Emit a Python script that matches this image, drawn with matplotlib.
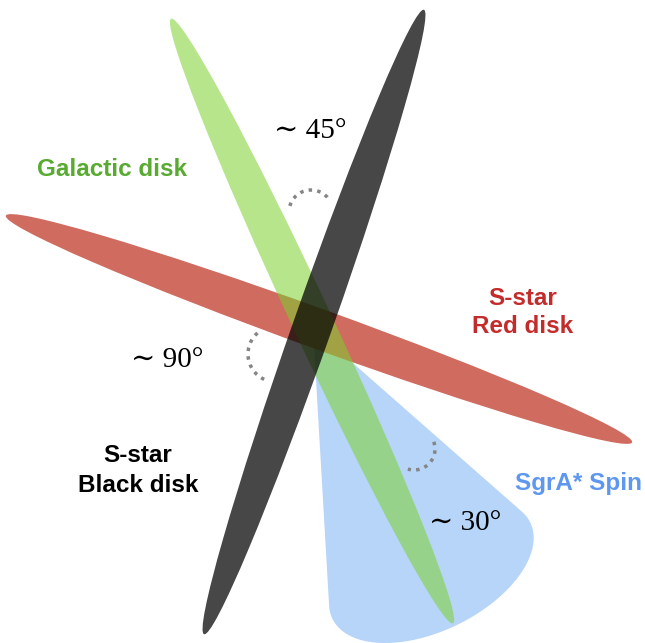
import numpy as np
import matplotlib
matplotlib.use('Agg')
import matplotlib.pyplot as plt
from matplotlib.patches import Ellipse, Arc, Polygon

# disks (pixel frame, y down): centre, tilt of long axis (deg), length, thickness
disk_names = ['S-star Red disk', 'Galactic disk', 'S-star Black disk']
disk_cx = [319, 312, 314]
disk_cy = [329, 321, 322]
disk_tilt = [19.9, 65.0, 109.4]
disk_len = [666, 667, 662]
disk_thick = [40, 40, 39]
disk_color = ['#cf6b5f', '#7cd12e', '#000000']
disk_alpha = [1.0, 0.55, 0.72]

# SgrA* spin cone: apex, axis tilt, distance to base, base semi-axes
spin_apex = (313, 328)
spin_tilt = 64.0
spin_dist = 270
spin_b = 60
spin_r = 110

# angle markers: centre, radius, start/end (deg)
arc_cx = [311, 276, 414]
arc_cy = [212, 354, 449]
arc_r = [22, 28, 21]
arc_t1 = [-164, 115, -20]
arc_t2 = [-31, 234, 107]

angle_labels = ['\u223c 45°', '\u223c 90°', '\u223c 30°']
angle_x = [310, 167, 465]
angle_y = [138, 367, 530]

fig = plt.figure(figsize=(6.45, 6.43), dpi=100)
ax = fig.add_axes([0, 0, 1, 1])
ax.set_xlim(0, 645)
ax.set_ylim(643, 0)
ax.axis('off')

# cone silhouette: apex + far arc of the base ellipse between tangent points
a = np.radians(spin_tilt)
u = np.array([np.cos(a), np.sin(a)])
v = np.array([-np.sin(a), np.cos(a)])
tstar = np.arccos(-spin_b / spin_dist)
t = np.linspace(-tstar, tstar, 200)
pts = (np.array(spin_apex)[None, :]
       + (spin_dist + spin_b * np.cos(t))[:, None] * u[None, :]
       + (spin_r * np.sin(t))[:, None] * v[None, :])
pts = np.vstack([spin_apex, pts])
ax.add_patch(Polygon(pts, closed=True, facecolor='#b6d5f8', edgecolor='none', zorder=1))

for i in range(len(disk_names)):
    ax.add_patch(Ellipse((disk_cx[i], disk_cy[i]), disk_len[i], disk_thick[i],
                         angle=disk_tilt[i], facecolor=disk_color[i],
                         alpha=disk_alpha[i], edgecolor='none', zorder=2 + i))

for i in range(len(arc_cx)):
    ax.add_patch(Arc((arc_cx[i], arc_cy[i]), 2 * arc_r[i], 2 * arc_r[i],
                     theta1=arc_t1[i], theta2=arc_t2[i], color='#858585',
                     lw=2.5, ls=(0, (1, 1.5)), zorder=6))

for lab, x, y in zip(angle_labels, angle_x, angle_y):
    ax.text(x, y, lab, ha='center', va='baseline', fontsize=21,
            family=['Liberation Serif', 'DejaVu Serif', 'DejaVu Sans'],
            color='black', zorder=7)

bold = dict(fontsize=17.5, family='Liberation Sans', weight='bold', va='baseline', zorder=7)
ax.text(112, 176, 'Galactic disk', ha='center', color='#58ab30', **bold)
ax.text(523, 305, 'S-star', ha='center', color='#c42b2b', **bold)
ax.text(523, 333, 'Red disk', ha='center', color='#c42b2b', **bold)
ax.text(138, 462, 'S-star', ha='center', color='black', **bold)
ax.text(138, 492, 'Black disk', ha='center', color='black', **bold)
ax.text(515, 490, 'SgrA* Spin', ha='left', color='#5e97ef', **bold)

fig.savefig('out.png', dpi=100)
